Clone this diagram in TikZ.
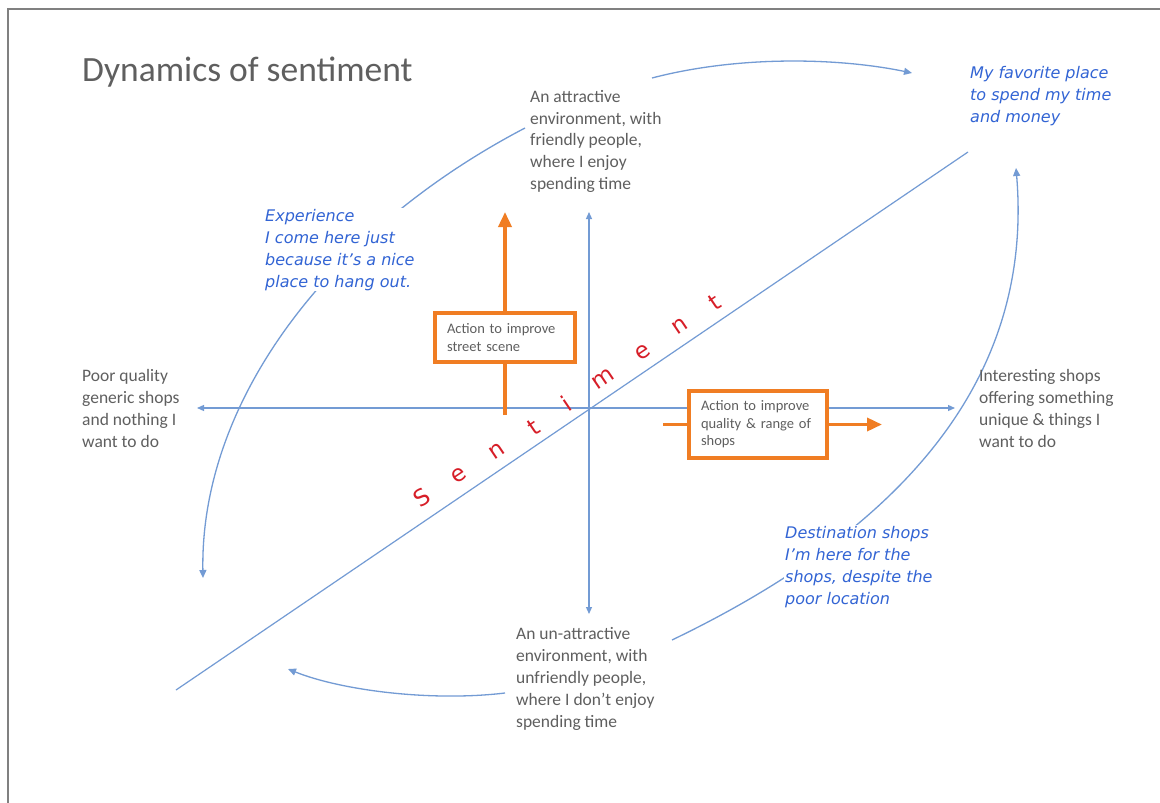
\documentclass[tikz,border=0pt]{standalone}
\usepackage{fontspec}
\setmainfont{Carlito}
\newfontfamily\bluefont{DejaVu Sans}
\usetikzlibrary{arrows.meta}
\definecolor{txtgray}{RGB}{95,95,95}
\definecolor{axisblue}{RGB}{115,155,212}
\definecolor{labelblue}{RGB}{50,100,212}
\definecolor{sentred}{RGB}{215,30,40}
\definecolor{actorange}{RGB}{240,125,35}
\definecolor{framegray}{RGB}{128,128,128}
\begin{document}
\begin{tikzpicture}[x=1pt,y=-1pt,
  axisline/.style={draw=axisblue,line width=1.2pt,{Triangle[width=6pt,length=7pt]}-{Triangle[width=6pt,length=7pt]}},
  diagline/.style={draw=axisblue,line width=1.2pt},
  arcline/.style={draw=axisblue,line width=1.3pt,-{Triangle[width=7pt,length=8pt]}},
  graylabel/.style={font=\fontsize{17.5}{21.8}\selectfont,text=txtgray,align=left,inner sep=0pt,anchor=base west},
  bluelabel/.style={font=\bluefont\itshape\fontsize{16}{21.8}\selectfont,text=labelblue,align=left,inner sep=1pt,anchor=base west,fill=white},
  sentletter/.style={font=\bluefont\fontsize{23}{23}\selectfont,text=sentred,rotate=34,inner sep=0pt},
  actbox/.style={draw=actorange,line width=3.2pt,fill=white,font=\fontsize{14.5}{17.5}\selectfont,text=txtgray,align=left,inner xsep=12pt,inner ysep=2pt},
  actarrow/.style={draw=actorange,line width=3.5pt,-{Triangle[width=13pt,length=15pt]}},
  actline/.style={draw=actorange,line width=3.5pt}
]
\useasboundingbox (0,0) rectangle (1160,803);
\fill[white] (0,0) rectangle (1160,803);
% frame
\draw[framegray,line width=1.2pt] (8,803) -- (8,9) -- (1160,9);

% title
\node[font=\fontsize{35.5}{40}\selectfont,text=txtgray,anchor=base west,inner sep=0pt] (title) at (82,81) {Dynamics of sentiment};

% axes
\coordinate (ytop) at (589,212);
\coordinate (ybot) at (589,614);
\coordinate (xleft) at (197,408);
\coordinate (xright) at (955,408);
\coordinate (dstart) at (176,690);
\coordinate (dend) at (968,152);
\draw[axisline] (ytop) -- (ybot);
\draw[axisline] (xleft) -- (xright);
\draw[diagline] (dstart) -- (dend);

% curved arrows
\coordinate (a1s) at (652,78);
\coordinate (a1e) at (912,73);
\draw[arcline] (a1s) .. controls (740,55) and (840,58) .. (a1e);
\coordinate (a2s) at (525,128);
\coordinate (a2e) at (203,578);
\draw[arcline] (a2s) .. controls (330,230) and (200,400) .. (a2e);
\coordinate (a3s) at (672,640);
\coordinate (a3e) at (1016,168);
\draw[arcline] (a3s) .. controls (880,540) and (1035,395) .. (a3e);
\coordinate (a4s) at (505,693);
\coordinate (a4e) at (288,669);
\draw[arcline] (a4s) .. controls (430,702) and (340,690) .. (a4e);

% sentiment letters
\node[sentletter] (s1) at (422,497) {S};
\node[sentletter] (s2) at (459,475) {e};
\node[sentletter] (s3) at (497,451) {n};
\node[sentletter] (s4) at (534,427) {t};
\node[sentletter] (s5) at (566,403) {i};
\node[sentletter] (s6) at (603,379) {m};
\node[sentletter] (s7) at (643,352) {e};
\node[sentletter] (s8) at (680,326) {n};
\node[sentletter] (s9) at (715,302) {t};

% gray axis labels (base = last line)
\node[graylabel] (top) at (530,189.5) {An attractive\\environment, with\\friendly people,\\where I enjoy\\spending time};
\node[graylabel] (left) at (82,447) {Poor quality\\generic shops\\and nothing I\\want to do};
\node[graylabel] (right) at (979,447) {Interesting shops\\offering something\\unique \& things I\\want to do};
\node[graylabel] (bottom) at (516,727) {An un-attractive\\environment, with\\unfriendly people,\\where I don’t enjoy\\spending time};

% blue labels (base = last line)
\node[bluelabel] (fav) at (969,122) {My favorite place\\to spend my time\\and money};
\node[bluelabel] (exp) at (264,287) {Experience\\I come here just\\because it’s a nice\\place to hang out.};
\node[bluelabel] (dest) at (784,604) {Destination shops\\I’m here for the\\shops, despite the\\poor location};

% action arrows and boxes
\coordinate (o1s) at (505,415);
\coordinate (o1e) at (505,212);
\coordinate (o2s) at (663,424.5);
\coordinate (o2e) at (882,424.5);
\node[actbox,minimum width=140pt,minimum height=49pt,text width=116pt] (box1) at (505,337.5) {Action to improve\\street scene};
\node[actbox,minimum width=138pt,minimum height=67pt,text width=114pt] (box2) at (758,424.5) {Action to improve\\quality \& range of\\shops};
\draw[actline] (o1s) -- (box1.south);
\draw[actarrow] (box1.north) -- (o1e);
\draw[actline] (o2s) -- (box2.west);
\draw[actarrow] (box2.east) -- (o2e);
\end{tikzpicture}
\end{document}
